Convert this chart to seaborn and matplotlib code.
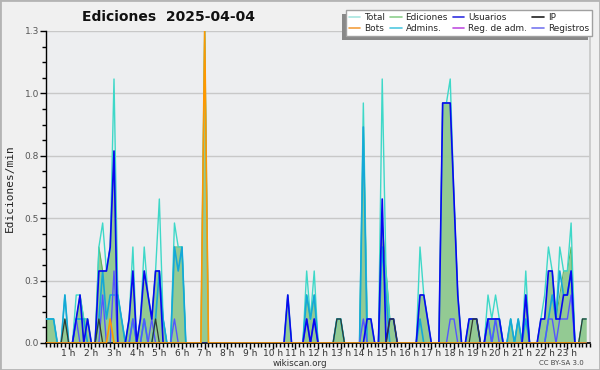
import numpy as np
import pandas as pd
import matplotlib
matplotlib.use("Agg")
import matplotlib.pyplot as plt
import seaborn as sns
from matplotlib.lines import Line2D
from matplotlib.patches import Rectangle

# ---------------- data (edits per minute, 10-minute bins, 00:00 .. 23:50) ----------------
total = [
    0.1, 0.1, 0.1, 0.0, 0.0, 0.2,
    0.0, 0.0, 0.2, 0.2, 0.1, 0.1,
    0.0, 0.0, 0.4, 0.5, 0.3, 0.4,
    1.1, 0.2, 0.1, 0.0, 0.1, 0.4,
    0.0, 0.1, 0.4, 0.2, 0.1, 0.3,
    0.6, 0.1, 0.0, 0.0, 0.5, 0.4,
    0.4, 0.0, 0.0, 0.0, 0.0, 0.0,
    1.3, 0.0, 0.0, 0.0, 0.0, 0.0,
    0.0, 0.0, 0.0, 0.0, 0.0, 0.0,
    0.0, 0.0, 0.0, 0.0, 0.0, 0.0,
    0.0, 0.0, 0.0, 0.0, 0.2, 0.0,
    0.0, 0.0, 0.0, 0.3, 0.1, 0.3,
    0.0, 0.0, 0.0, 0.0, 0.0, 0.1,
    0.1, 0.0, 0.0, 0.0, 0.0, 0.0,
    1.0, 0.1, 0.1, 0.0, 0.0, 1.1,
    0.3, 0.1, 0.1, 0.0, 0.0, 0.0,
    0.0, 0.0, 0.0, 0.4, 0.2, 0.1,
    0.0, 0.0, 0.0, 1.0, 1.0, 1.1,
    0.6, 0.2, 0.0, 0.0, 0.1, 0.1,
    0.1, 0.0, 0.0, 0.2, 0.1, 0.2,
    0.1, 0.0, 0.0, 0.1, 0.0, 0.1,
    0.0, 0.3, 0.0, 0.0, 0.0, 0.1,
    0.2, 0.4, 0.3, 0.1, 0.4, 0.3,
    0.3, 0.5, 0.0, 0.0, 0.1, 0.1,
]
ediciones = [
    0.1, 0.1, 0.1, 0.0, 0.0, 0.1,
    0.0, 0.0, 0.1, 0.2, 0.1, 0.1,
    0.0, 0.0, 0.4, 0.3, 0.3, 0.4,
    0.8, 0.2, 0.1, 0.0, 0.1, 0.3,
    0.0, 0.1, 0.3, 0.2, 0.1, 0.3,
    0.3, 0.1, 0.0, 0.0, 0.4, 0.4,
    0.4, 0.0, 0.0, 0.0, 0.0, 0.0,
    1.3, 0.0, 0.0, 0.0, 0.0, 0.0,
    0.0, 0.0, 0.0, 0.0, 0.0, 0.0,
    0.0, 0.0, 0.0, 0.0, 0.0, 0.0,
    0.0, 0.0, 0.0, 0.0, 0.2, 0.0,
    0.0, 0.0, 0.0, 0.2, 0.1, 0.2,
    0.0, 0.0, 0.0, 0.0, 0.0, 0.1,
    0.1, 0.0, 0.0, 0.0, 0.0, 0.0,
    0.9, 0.1, 0.1, 0.0, 0.0, 0.5,
    0.3, 0.1, 0.1, 0.0, 0.0, 0.0,
    0.0, 0.0, 0.0, 0.2, 0.2, 0.1,
    0.0, 0.0, 0.0, 1.0, 1.0, 1.0,
    0.6, 0.2, 0.0, 0.0, 0.1, 0.1,
    0.1, 0.0, 0.0, 0.1, 0.1, 0.1,
    0.1, 0.0, 0.0, 0.1, 0.0, 0.1,
    0.0, 0.2, 0.0, 0.0, 0.0, 0.1,
    0.1, 0.3, 0.3, 0.1, 0.2, 0.3,
    0.3, 0.4, 0.0, 0.0, 0.1, 0.1,
]
usuarios = [
    0.0, 0.0, 0.0, 0.0, 0.0, 0.0,
    0.0, 0.0, 0.1, 0.2, 0.0, 0.1,
    0.0, 0.0, 0.3, 0.3, 0.3, 0.4,
    0.8, 0.0, 0.0, 0.0, 0.1, 0.3,
    0.0, 0.1, 0.3, 0.2, 0.1, 0.3,
    0.3, 0.0, 0.0, 0.0, 0.0, 0.0,
    0.0, 0.0, 0.0, 0.0, 0.0, 0.0,
    0.0, 0.0, 0.0, 0.0, 0.0, 0.0,
    0.0, 0.0, 0.0, 0.0, 0.0, 0.0,
    0.0, 0.0, 0.0, 0.0, 0.0, 0.0,
    0.0, 0.0, 0.0, 0.0, 0.2, 0.0,
    0.0, 0.0, 0.0, 0.1, 0.0, 0.1,
    0.0, 0.0, 0.0, 0.0, 0.0, 0.0,
    0.0, 0.0, 0.0, 0.0, 0.0, 0.0,
    0.0, 0.1, 0.1, 0.0, 0.0, 0.6,
    0.0, 0.1, 0.1, 0.0, 0.0, 0.0,
    0.0, 0.0, 0.0, 0.2, 0.2, 0.1,
    0.0, 0.0, 0.0, 1.0, 1.0, 1.0,
    0.6, 0.2, 0.0, 0.0, 0.1, 0.1,
    0.1, 0.0, 0.0, 0.1, 0.1, 0.1,
    0.1, 0.0, 0.0, 0.0, 0.0, 0.0,
    0.0, 0.2, 0.0, 0.0, 0.0, 0.1,
    0.1, 0.3, 0.3, 0.1, 0.1, 0.2,
    0.2, 0.3, 0.0, 0.0, 0.0, 0.0,
]
admins = [
    0.1, 0.1, 0.1, 0.0, 0.0, 0.2,
    0.0, 0.0, 0.1, 0.1, 0.1, 0.0,
    0.0, 0.0, 0.1, 0.3, 0.1, 0.2,
    0.2, 0.2, 0.1, 0.0, 0.0, 0.1,
    0.0, 0.0, 0.1, 0.0, 0.0, 0.1,
    0.3, 0.1, 0.0, 0.0, 0.4, 0.3,
    0.4, 0.0, 0.0, 0.0, 0.0, 0.0,
    0.0, 0.0, 0.0, 0.0, 0.0, 0.0,
    0.0, 0.0, 0.0, 0.0, 0.0, 0.0,
    0.0, 0.0, 0.0, 0.0, 0.0, 0.0,
    0.0, 0.0, 0.0, 0.0, 0.0, 0.0,
    0.0, 0.0, 0.0, 0.2, 0.1, 0.2,
    0.0, 0.0, 0.0, 0.0, 0.0, 0.1,
    0.1, 0.0, 0.0, 0.0, 0.0, 0.0,
    0.9, 0.0, 0.0, 0.0, 0.0, 0.4,
    0.2, 0.0, 0.0, 0.0, 0.0, 0.0,
    0.0, 0.0, 0.0, 0.1, 0.0, 0.0,
    0.0, 0.0, 0.0, 0.0, 0.0, 0.0,
    0.0, 0.0, 0.0, 0.0, 0.0, 0.0,
    0.0, 0.0, 0.0, 0.1, 0.0, 0.1,
    0.1, 0.0, 0.0, 0.1, 0.0, 0.1,
    0.0, 0.1, 0.0, 0.0, 0.0, 0.0,
    0.0, 0.1, 0.2, 0.1, 0.3, 0.2,
    0.2, 0.3, 0.0, 0.0, 0.0, 0.0,
]
registros = [
    0.0, 0.0, 0.0, 0.0, 0.0, 0.0,
    0.0, 0.0, 0.1, 0.0, 0.0, 0.0,
    0.0, 0.0, 0.0, 0.2, 0.0, 0.0,
    0.3, 0.0, 0.0, 0.0, 0.0, 0.1,
    0.0, 0.0, 0.1, 0.0, 0.1, 0.0,
    0.0, 0.0, 0.0, 0.0, 0.1, 0.0,
    0.0, 0.0, 0.0, 0.0, 0.0, 0.0,
    0.0, 0.0, 0.0, 0.0, 0.0, 0.0,
    0.0, 0.0, 0.0, 0.0, 0.0, 0.0,
    0.0, 0.0, 0.0, 0.0, 0.0, 0.0,
    0.0, 0.0, 0.0, 0.0, 0.0, 0.0,
    0.0, 0.0, 0.0, 0.1, 0.0, 0.1,
    0.0, 0.0, 0.0, 0.0, 0.0, 0.0,
    0.0, 0.0, 0.0, 0.0, 0.0, 0.0,
    0.1, 0.0, 0.0, 0.0, 0.0, 0.0,
    0.0, 0.0, 0.0, 0.0, 0.0, 0.0,
    0.0, 0.0, 0.0, 0.0, 0.0, 0.0,
    0.0, 0.0, 0.0, 0.0, 0.0, 0.1,
    0.1, 0.0, 0.0, 0.0, 0.0, 0.0,
    0.0, 0.0, 0.0, 0.1, 0.0, 0.1,
    0.0, 0.0, 0.0, 0.0, 0.0, 0.0,
    0.0, 0.2, 0.0, 0.0, 0.0, 0.0,
    0.0, 0.1, 0.1, 0.0, 0.1, 0.1,
    0.1, 0.2, 0.0, 0.0, 0.0, 0.0,
]
ip = [
    0.0, 0.0, 0.0, 0.0, 0.0, 0.1,
    0.0, 0.0, 0.0, 0.0, 0.0, 0.0,
    0.0, 0.0, 0.1, 0.0, 0.0, 0.0,
    0.0, 0.0, 0.0, 0.0, 0.0, 0.0,
    0.0, 0.0, 0.0, 0.0, 0.0, 0.1,
    0.0, 0.0, 0.0, 0.0, 0.0, 0.0,
    0.0, 0.0, 0.0, 0.0, 0.0, 0.0,
    0.0, 0.0, 0.0, 0.0, 0.0, 0.0,
    0.0, 0.0, 0.0, 0.0, 0.0, 0.0,
    0.0, 0.0, 0.0, 0.0, 0.0, 0.0,
    0.0, 0.0, 0.0, 0.0, 0.0, 0.0,
    0.0, 0.0, 0.0, 0.0, 0.0, 0.0,
    0.0, 0.0, 0.0, 0.0, 0.0, 0.1,
    0.1, 0.0, 0.0, 0.0, 0.0, 0.0,
    0.0, 0.0, 0.0, 0.0, 0.0, 0.0,
    0.0, 0.1, 0.1, 0.0, 0.0, 0.0,
    0.0, 0.0, 0.0, 0.0, 0.0, 0.0,
    0.0, 0.0, 0.0, 0.0, 0.0, 0.0,
    0.0, 0.0, 0.0, 0.0, 0.0, 0.1,
    0.1, 0.0, 0.0, 0.0, 0.0, 0.0,
    0.0, 0.0, 0.0, 0.0, 0.0, 0.0,
    0.0, 0.0, 0.0, 0.0, 0.0, 0.0,
    0.0, 0.0, 0.0, 0.0, 0.0, 0.0,
    0.0, 0.0, 0.0, 0.0, 0.1, 0.1,
]
bots = [0.0] * 17 + [0.1] + [0.0] * 24 + [1.3] + [0.0] * 101
reg_adm = [0.0] * 144

hour_labels = [f"{h} h" for h in range(1, 24)]
y_ticks = [0.0, 0.26, 0.52, 0.78, 1.04, 1.3]
y_labels = ["0.0", "0.3", "0.5", "0.8", "1.0", "1.3"]
legend_labels = ["Total", "Ediciones", "Usuarios", "IP",
                 "Bots", "Admins.", "Reg. de adm.", "Registros"]

# ---------------- figure ----------------
sns.set_theme(style="white")
plt.rcParams['font.family'] = ['DejaVu Sans']

df = pd.DataFrame({
    "hora": np.arange(len(total)) / 6.0,
    "total": total, "ediciones": ediciones, "usuarios": usuarios,
    "admins": admins, "registros": registros, "ip": ip, "bots": bots,
    "reg_adm": reg_adm,
})

W, H = 600, 370
fig = plt.figure(figsize=(6.0, 3.7), dpi=100, facecolor="#f0f0f0")
ax = fig.add_axes([46 / W, 1 - 343 / H, (590 - 46) / W, (343 - 31) / H])
ax.set_facecolor("#edeef0")

ax.fill_between(df["hora"], df["ediciones"], color="#8ec88e", alpha=0.95, lw=0, zorder=2)
sns.lineplot(data=df, x="hora", y="ediciones", color="#5fb45f", lw=0.8, ax=ax, zorder=3)
sns.lineplot(data=df, x="hora", y="total", color="#3ed8c8", lw=1.0, ax=ax, zorder=3)
sns.lineplot(data=df, x="hora", y="admins", color="#14a8d8", lw=1.2, ax=ax, zorder=4)
sns.lineplot(data=df, x="hora", y="reg_adm", color="#c040e0", lw=0.8, ax=ax, zorder=2)
sns.lineplot(data=df, x="hora", y="registros", color="#5555ff", lw=1.0, ax=ax, zorder=5)
sns.lineplot(data=df, x="hora", y="usuarios", color="#0808f0", lw=1.2, ax=ax, zorder=6)
sns.lineplot(data=df, x="hora", y="ip", color="#303a30", lw=0.9, ax=ax, zorder=6)
sns.lineplot(data=df, x="hora", y="bots", color="#ff9800", lw=1.2, ax=ax, zorder=7)

ax.set_xlim((46 - 38.5) / 23.2, (590 - 38.5) / 23.2)
ax.set_ylim(0, 1.3)
ax.set_xlabel("")
ax.set_ylabel("")

ax.set_xticks(range(1, 24))
ax.set_xticklabels(hour_labels)
ax.set_xticks(np.arange(0, 24.01, 1 / 6), minor=True)
ax.set_yticks(y_ticks)
ax.set_yticklabels(y_labels)
ax.set_yticks(np.arange(0, 1.301, 0.065), minor=True)

ax.tick_params(axis="x", which="major", direction="out", length=4, width=1,
               color="black", labelsize=6.5, labelcolor="#333333", pad=0.5)
ax.tick_params(axis="x", which="minor", direction="out", length=3, width=1, color="black")
ax.tick_params(axis="y", which="major", direction="out", length=4, width=1,
               color="black", labelsize=6.5, labelcolor="#555555", pad=1)
ax.tick_params(axis="y", which="minor", direction="out", length=3, width=1, color="black")
ax.tick_params(bottom=True, left=True, which="both")

ax.grid(axis="y", which="major", color="#c8c8c8", lw=1, zorder=0)
ax.set_axisbelow(True)
ax.spines["top"].set_visible(False)
ax.spines["right"].set_color("#c8c8c8")
ax.spines["left"].set_color("black")
ax.spines["bottom"].set_color("black")
ax.spines["left"].set_linewidth(1)
ax.spines["bottom"].set_linewidth(1.2)

# texts
fig.text(168 / W, 1 - 17 / H, "Ediciones  2025-04-04", ha="center", va="center",
         fontsize=10, fontweight="bold", color="#111111")
fig.text(10 / W, 1 - 188 / H, "Ediciones/min", rotation=90, ha="center", va="center",
         fontsize=8, family="DejaVu Sans Mono", color="#222222")
fig.text(300 / W, 1 - 363 / H, "wikiscan.org", ha="center", va="center",
         fontsize=6.3, color="#333333")
fig.text(561 / W, 1 - 363 / H, "CC BY-SA 3.0", ha="center", va="center",
         fontsize=5, color="#444444")

# legend
leg_colors = {"Total": "#a8e6e0", "Ediciones": "#8ed08e", "Usuarios": "#3030e0",
              "IP": "#202020", "Bots": "#f4a040", "Admins.": "#50c8e0",
              "Reg. de adm.": "#c050e0", "Registros": "#7878f0"}
order = ["Total", "Bots", "Ediciones", "Admins.", "Usuarios", "Reg. de adm.", "IP", "Registros"]
handles = [Line2D([0], [0], color=leg_colors[k], lw=1.2) for k in order]
leg = fig.legend(handles, order, ncol=4, loc="upper right",
                 bbox_to_anchor=(592 / W, 1 - 10 / H), frameon=True, fancybox=False,
                 fontsize=6.4, handlelength=1.3, handletextpad=0.45, columnspacing=0.55,
                 borderpad=0.35, labelspacing=0.2, borderaxespad=0)
leg.get_frame().set_facecolor("white")
leg.get_frame().set_edgecolor("#a0a0a0")
leg.get_frame().set_alpha(1)
leg.set_zorder(5)

fig.canvas.draw()
bb = leg.get_window_extent()
fig.patches.append(Rectangle(((bb.x0 - 4) / W, (bb.y0 - 4) / H), bb.width / W, bb.height / H,
                             transform=fig.transFigure, facecolor="#888888",
                             edgecolor="none", zorder=4))

fig.patches.append(Rectangle((0, 0), 1, 1, transform=fig.transFigure, fill=False,
                             edgecolor="#b4b4b4", lw=2, zorder=10))

fig.savefig("out.png", dpi=100, facecolor=fig.get_facecolor())
